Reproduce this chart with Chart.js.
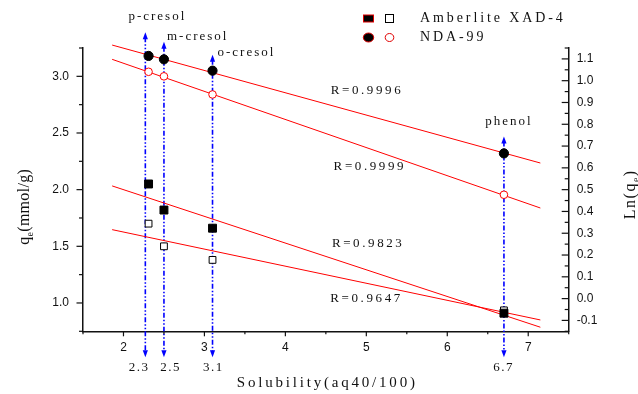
<!DOCTYPE html>
<html>
<head>
<meta charset="utf-8">
<script src="https://cdn.jsdelivr.net/npm/chart.js@4.4.1/dist/chart.umd.min.js"></script>
<style>
  html, body { margin: 0; padding: 0; background: #fff; }
  #wrap { width: 638px; height: 394px; position: relative; }
</style>
</head>
<body>
<div id="wrap"><canvas id="solubilityChart"></canvas></div>
<script>
// compounds and their solubility (aq 40 / 100)
const compounds = ['p-cresol', 'm-cresol', 'o-cresol', 'phenol'];
const solubilityLabels = ['2.3', '2.5', '3.1', '6.7'];
const solubility = [2.27, 2.5, 3.1, 6.7];
const pointX = [2.31, 2.5, 3.1, 6.7];

// qe (mmol/g)
const ndaFilled = [3.18, 3.15, 3.05, 2.32];
const ndaOpen = [3.04, 3.00, 2.84, 1.955];
const xadFilled = [2.05, 1.82, 1.66, 0.91];
const xadOpen = [1.70, 1.50, 1.38, 0.935];

// arrow ends, in left axis units
const arrowTop = [3.39, 3.305, 3.19, 2.47];
const arrowBottom = 0.52;

// fitted lines (end points)
const fitX = [1.86, 7.15];
const fitNdaFilled = [3.276, 2.235];
const fitNdaOpen = [3.15, 1.838];
const fitXadFilled = [2.033, 0.786];
const fitXadOpen = [1.647, 0.85];
const rLabels = ['R=0.9996', 'R=0.9999', 'R=0.9823', 'R=0.9647'];

const legendLabels = ['Amberlite XAD-4', 'NDA-99'];

const SERIF = '"Liberation Serif", "DejaVu Serif", serif';
const SANS = '"Liberation Sans", Arial, sans-serif';
const INK = '#111';

// placement of the annotations (value coords for R labels, pixel offsets for the rest)
const rLabelPos = [[4.56, 2.873], [4.596, 2.202], [4.575, 1.52], [4.555, 1.041]];
const nameOffset = [[11, -15.7, 'center'], [3, -5, 'left'], [5, -2.6, 'left'], [4, -14.7, 'center']];
const bottomOffset = [-7, 6, 0, -1];

const toPoints = (xs, ys) => xs.map((x, i) => ({ x, y: ys[i] }));

function spaced(ctx, text, x, y, spacing, align) {
  const widths = [...text].map(c => ctx.measureText(c).width);
  const total = widths.reduce((a, b) => a + b, 0) + spacing * (text.length - 1);
  let cx = align === 'center' ? x - total / 2 : align === 'right' ? x - total : x;
  ctx.textAlign = 'left';
  [...text].forEach((c, i) => {
    ctx.fillText(c, cx, y);
    cx += widths[i] + spacing;
  });
}

const arrows = {
  id: 'arrows',
  beforeDatasetsDraw(chart) {
    const { ctx, scales: { x, y } } = chart;
    ctx.save();
    ctx.strokeStyle = '#0000ff';
    ctx.fillStyle = '#0000ff';
    ctx.lineWidth = 1.6;
    solubility.forEach((s, i) => {
      const px = x.getPixelForValue(s);
      const top = y.getPixelForValue(arrowTop[i]);
      const bot = y.getPixelForValue(arrowBottom);
      ctx.setLineDash([5, 2, 1.5, 2, 1.5, 2]);
      ctx.beginPath();
      ctx.moveTo(px, top + 5);
      ctx.lineTo(px, bot - 5);
      ctx.stroke();
      ctx.setLineDash([]);
      ctx.beginPath();
      ctx.moveTo(px, top);
      ctx.lineTo(px - 2.6, top + 7);
      ctx.lineTo(px + 2.6, top + 7);
      ctx.closePath();
      ctx.fill();
      ctx.beginPath();
      ctx.moveTo(px, bot);
      ctx.lineTo(px - 2.6, bot - 7);
      ctx.lineTo(px + 2.6, bot - 7);
      ctx.closePath();
      ctx.fill();
    });
    ctx.restore();
  }
};

const decorations = {
  id: 'decorations',
  afterDraw(chart) {
    const { ctx, chartArea: a, scales: { x, y, y1 } } = chart;
    ctx.save();

    // tick marks: major where labelled, minor otherwise
    ctx.strokeStyle = INK;
    ctx.lineWidth = 1.2;
    const seg = (x0, y0, x1, y1_) => { ctx.beginPath(); ctx.moveTo(x0, y0); ctx.lineTo(x1, y1_); ctx.stroke(); };
    x.ticks.forEach(t => {
      const px = x.getPixelForValue(t.value);
      seg(px, a.bottom, px, a.bottom + (t.label ? 5 : 3));
    });
    y.ticks.forEach(t => {
      const py = y.getPixelForValue(t.value);
      seg(a.left, py, a.left - (t.label ? 6.5 : 4), py);
    });
    y1.ticks.forEach(t => {
      const py = y1.getPixelForValue(t.value);
      seg(a.right, py, a.right - (t.label ? 7 : 4), py);
    });

    ctx.fillStyle = INK;
    ctx.textBaseline = 'middle';

    // compound names above arrows
    ctx.font = '13px ' + SERIF;
    compounds.forEach((name, i) => {
      const px = x.getPixelForValue(solubility[i]);
      const top = y.getPixelForValue(arrowTop[i]);
      const [dx, dy, align] = nameOffset[i];
      spaced(ctx, name, px + dx, top + dy, 2, align);
    });

    // solubility values under the arrows
    solubilityLabels.forEach((lab, i) => {
      const px = x.getPixelForValue(solubility[i]);
      spaced(ctx, lab, px + bottomOffset[i], 368, 1.5, 'center');
    });

    // correlation coefficients
    rLabels.forEach((lab, i) => {
      const [vx, vy] = rLabelPos[i];
      spaced(ctx, lab, x.getPixelForValue(vx), y.getPixelForValue(vy), 2.6, 'left');
    });

    // axis titles
    ctx.font = '15px ' + SERIF;
    spaced(ctx, 'Solubility(aq40/100)', (a.left + a.right) / 2, 383, 2.8, 'center');

    const vertTitle = (cx, cy, main, sub, rest, spacing) => {
      ctx.save();
      ctx.translate(cx, cy);
      ctx.rotate(-Math.PI / 2);
      ctx.font = '16px ' + SERIF;
      const w1 = ctx.measureText(main).width + spacing * main.length;
      const w3 = ctx.measureText(rest).width + spacing * (rest.length - 1);
      ctx.font = '10px ' + SERIF;
      const w2 = ctx.measureText(sub).width + spacing;
      let sx = -(w1 + w2 + w3) / 2;
      ctx.font = '16px ' + SERIF;
      spaced(ctx, main, sx, 0, spacing, 'left');
      sx += w1;
      ctx.font = '10px ' + SERIF;
      ctx.fillText(sub, sx, 5);
      sx += w2;
      ctx.font = '16px ' + SERIF;
      spaced(ctx, rest, sx, 0, spacing, 'left');
      ctx.restore();
    };
    vertTitle(25, 207, 'q', 'e', '(mmol/g)', 0.3);
    vertTitle(631, 195, 'Ln(q', 'e', ')', 1.5);

    // legend
    const lx1 = 368.5, lx2 = 389.5, row1 = 18.5, row2 = 37.5;
    ctx.lineWidth = 1;
    ctx.fillStyle = '#000';
    ctx.strokeStyle = '#e00000';
    ctx.fillRect(lx1 - 5, row1 - 3.5, 10, 7);
    ctx.strokeRect(lx1 - 5, row1 - 3.5, 10, 7);
    ctx.strokeStyle = '#000';
    ctx.strokeRect(lx2 - 4, row1 - 4, 8, 8);
    ctx.strokeStyle = '#e00000';
    ctx.beginPath();
    ctx.ellipse(lx1, row2, 5.2, 4.5, 0, 0, Math.PI * 2);
    ctx.fill();
    ctx.stroke();
    ctx.beginPath();
    ctx.ellipse(lx2, row2, 4.3, 4, 0, 0, Math.PI * 2);
    ctx.stroke();
    ctx.fillStyle = INK;
    ctx.font = '14px ' + SERIF;
    spaced(ctx, legendLabels[0], 420, row1, 2.9, 'left');
    spaced(ctx, legendLabels[1], 420, row2, 2.9, 'left');

    ctx.restore();
  }
};

const tickFont = { family: SANS, size: 12 };
const onGrid = (v, step) => Math.abs(v / step - Math.round(v / step)) < 1e-6;

new Chart(document.getElementById('solubilityChart'), {
  type: 'scatter',
  data: {
    datasets: [
      { label: 'NDA-99', data: toPoints(pointX, ndaFilled), pointStyle: 'circle', pointRadius: 4.6,
        backgroundColor: '#000', borderColor: '#000', borderWidth: 1 },
      { label: 'NDA-99 open', data: toPoints(pointX, ndaOpen), pointStyle: 'circle', pointRadius: 3.8,
        backgroundColor: '#fff', borderColor: '#ff0000', borderWidth: 1 },
      { label: 'Amberlite XAD-4', data: toPoints(pointX, xadFilled), pointStyle: 'rect', pointRadius: 5.6,
        backgroundColor: '#000', borderColor: '#000', borderWidth: 1 },
      { label: 'Amberlite XAD-4 open', data: toPoints(pointX, xadOpen), pointStyle: 'rect', pointRadius: 4.8,
        backgroundColor: '#fff', borderColor: '#000', borderWidth: 1 },
      { data: toPoints(fitX, fitNdaFilled), showLine: true, borderColor: '#ff0000', borderWidth: 1, pointRadius: 0, clip: false },
      { data: toPoints(fitX, fitNdaOpen), showLine: true, borderColor: '#ff0000', borderWidth: 1, pointRadius: 0, clip: false },
      { data: toPoints(fitX, fitXadFilled), showLine: true, borderColor: '#ff0000', borderWidth: 1, pointRadius: 0, clip: false },
      { data: toPoints(fitX, fitXadOpen), showLine: true, borderColor: '#ff0000', borderWidth: 1, pointRadius: 0, clip: false }
    ]
  },
  options: {
    responsive: true,
    maintainAspectRatio: false,
    animation: false,
    layout: { padding: { top: 48, left: 0, right: 0, bottom: 0 } },
    plugins: { legend: { display: false }, tooltip: { enabled: false } },
    scales: {
      x: {
        type: 'linear', min: 1.5, max: 7.5,
        grid: { display: false, drawTicks: false },
        border: { color: INK, width: 1.5 },
        ticks: {
          stepSize: 0.5, autoSkip: false, maxRotation: 0, padding: 9, color: INK, font: tickFont,
          callback: v => (onGrid(v, 1) && v >= 2 && v <= 7) ? String(Math.round(v)) : ''
        },
        afterFit: s => { s.height = 62.7; }
      },
      y: {
        position: 'left', min: 0.75, max: 3.25,
        grid: { display: false, drawTicks: false },
        border: { color: INK, width: 1.5 },
        ticks: {
          stepSize: 0.25, autoSkip: false, padding: 14, color: INK, font: tickFont,
          callback: v => (onGrid(v, 0.5) && v >= 1 && v <= 3) ? v.toFixed(1) : ''
        },
        afterFit: s => { s.width = 83; }
      },
      y1: {
        position: 'right', min: -0.15, max: 1.15,
        grid: { display: false, drawTicks: false },
        border: { color: INK, width: 1.5 },
        ticks: {
          stepSize: 0.05, autoSkip: false, padding: 8, color: INK, font: tickFont,
          callback: v => (onGrid(v, 0.1) && v >= -0.101 && v <= 1.101) ? (Math.round(v * 10) / 10).toFixed(1) : ''
        },
        afterFit: s => { s.width = 69.3; }
      }
    }
  },
  plugins: [arrows, decorations]
});
</script>
</body>
</html>
